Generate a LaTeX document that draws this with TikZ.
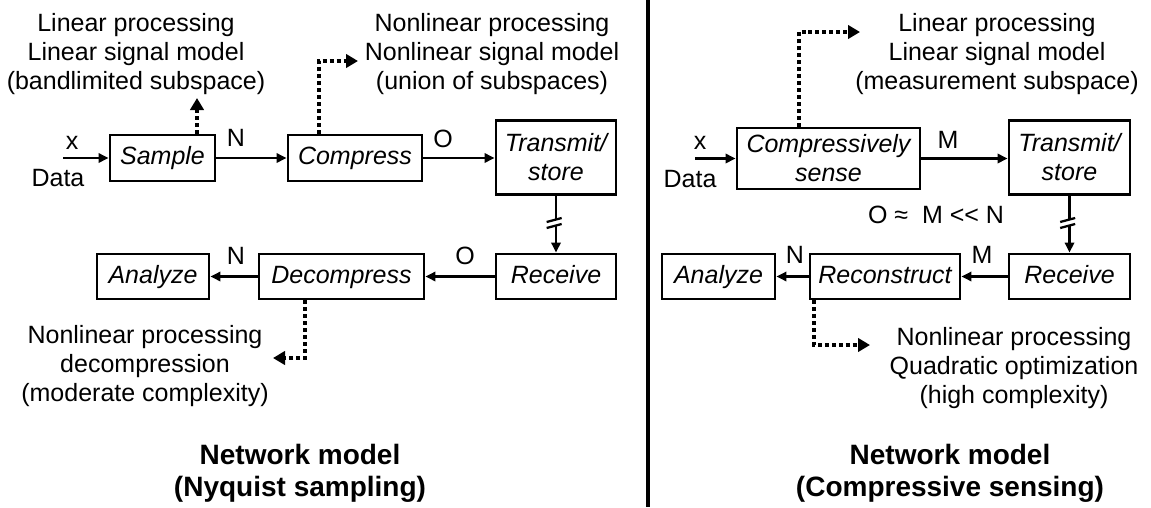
\documentclass[tikz,border=0pt]{standalone}
\usepackage{fontspec}
\setmainfont{Liberation Sans}
\usetikzlibrary{arrows.meta}
\newcommand{\fs}{\fontsize{18.75}{21.75}\selectfont}
\newcommand{\fst}{\fontsize{21}{24}\selectfont\bfseries}
\begin{document}
\begin{tikzpicture}[x=0.75pt,y=-0.75pt,
  box/.style={draw, line width=2.2pt, font=\fs\itshape, inner sep=0pt, align=center},
  onebox/.style={box, text height=13.7pt, text depth=3.9pt},
  lbl/.style={font=\fs, inner sep=0pt},
  txt/.style={font=\fs, align=center, inner sep=0pt},
  ttl/.style={font=\fst, align=center, inner sep=0pt},
  arr/.style={line width=1.7pt, -{Triangle[length=7.5pt,width=7pt]}},
  plain/.style={line width=1.7pt},
  dotarr/.style={line width=3pt, dash pattern=on 3pt off 2.2pt, -{Triangle[length=9pt,width=10pt]}}]
\useasboundingbox (0,0) rectangle (1151,507);
% divider
\draw[line width=3.5pt] (648,0) -- (648,507);

% ---------- left ----------
\node[onebox, minimum width=78.75pt, minimum height=34.5pt] (sample) at (162.5,158) {Sample};
\node[onebox, minimum width=100.5pt, minimum height=34.5pt] (compress) at (355,158) {Compress};
\node[box, minimum width=90pt, minimum height=55.5pt] (transL) at (556,157.5) {Transmit/\\store};
\node[onebox, minimum width=90pt, minimum height=33.75pt] (recL) at (556,276.5) {Receive};
\node[onebox, minimum width=123.75pt, minimum height=33.75pt] (decomp) at (341.5,276.5) {Decompress};
\node[onebox, minimum width=84pt, minimum height=33.75pt] (anaL) at (153,276.5) {Analyze};

\coordinate (dinL) at (63,158);
\draw[arr] (dinL) -- (sample.west);
\node[lbl] (xL) at (72,143) {x};
\node[lbl] (dataL) at (58,178) {Data};
\draw[arr] (sample) -- (compress);
\node[lbl] (nL1) at (236,138) {N};
\draw[arr] (compress.east) -- (compress.east -| transL.west);
\node[lbl] (oL1) at (443,139) {O};
\coordinate (bL1) at (556,220);
\coordinate (bL2) at (556,226);
\draw[plain] (transL.south) -- (bL1);
\draw[plain] ([xshift=-7]bL1) ++(0,2) -- ++(15,-4);
\draw[plain] ([xshift=-7]bL2) ++(0,2) -- ++(15,-4);
\draw[arr] (bL2) -- (recL.north);
\draw[arr] (recL) -- (decomp);
\node[lbl] (oL2) at (465,256) {O};
\draw[arr] (decomp) -- (anaL);
\node[lbl] (nL2) at (236,256) {N};

\node[txt] (tL) at (136,54) {Linear processing\\Linear signal model\\(bandlimited subspace)};
\node[txt] (tM) at (492,54) {Nonlinear processing\\Nonlinear signal model\\(union of subspaces)};
\node[txt] (bLt) at (145,366) {Nonlinear processing\\decompression\\(moderate complexity)};

\coordinate (sdL) at (197,98);
\draw[dotarr] (sample.north -| sdL) -- (sdL);
\coordinate (cdL) at (319,61);
\coordinate (cdL2) at (358,61);
\draw[dotarr] (compress.north -| cdL) -- (cdL) -- (cdL2);
\coordinate (ddL) at (305,358);
\coordinate (ddL2) at (273,358);
\draw[dotarr] (decomp.south -| ddL) -- (ddL) -- (ddL2);

\node[ttl] (ttlL) at (300,473) {Network model\\(Nyquist sampling)};

% ---------- right ----------
\node[box, minimum width=137.25pt, minimum height=45.75pt] (cs) at (828.5,158.5) {Compressively\\sense};
\node[box, minimum width=90.75pt, minimum height=55.5pt] (transR) at (1069.5,157.5) {Transmit/\\store};
\node[onebox, minimum width=90.75pt, minimum height=33.75pt] (recR) at (1069.5,276.5) {Receive};
\node[onebox, minimum width=112.5pt, minimum height=33.75pt] (recon) at (885,276.5) {Reconstruct};
\node[onebox, minimum width=84.75pt, minimum height=33.75pt] (anaR) at (718.5,276.5) {Analyze};

\coordinate (dinR) at (695,158.5);
\draw[arr] (dinR) -- (cs.west);
\node[lbl] (xR) at (700,143) {x};
\node[lbl] (dataR) at (690,179) {Data};
\draw[arr] (cs.east) -- (cs.east -| transR.west);
\node[lbl] (mR1) at (948,140) {M};
\node[lbl] (eqR) at (936,215) {O ≈\ \ M <{}< N};
\coordinate (bR1) at (1069.5,220);
\coordinate (bR2) at (1069.5,226);
\draw[plain] (transR.south) -- (bR1);
\draw[plain] ([xshift=-7]bR1) ++(0,2) -- ++(15,-4);
\draw[plain] ([xshift=-7]bR2) ++(0,2) -- ++(15,-4);
\draw[arr] (bR2) -- (recR.north);
\draw[arr] (recR) -- (recon);
\node[lbl] (mR2) at (982,255) {M};
\draw[arr] (recon) -- (anaR);
\node[lbl] (nR2) at (795,255) {N};

\node[txt] (tR) at (997,54) {Linear processing\\Linear signal model\\(measurement subspace)};
\node[txt] (bRt) at (1014,368) {Nonlinear processing\\Quadratic optimization\\(high complexity)};

\coordinate (cdR) at (799,32);
\coordinate (cdR2) at (860,32);
\draw[dotarr] (cs.north -| cdR) -- (cdR) -- (cdR2);
\coordinate (rdR) at (814,345);
\coordinate (rdR2) at (870,345);
\draw[dotarr] (recon.south -| rdR) -- (rdR) -- (rdR2);

\node[ttl] (ttlR) at (950,473) {Network model\\(Compressive sensing)};
\end{tikzpicture}
\end{document}
